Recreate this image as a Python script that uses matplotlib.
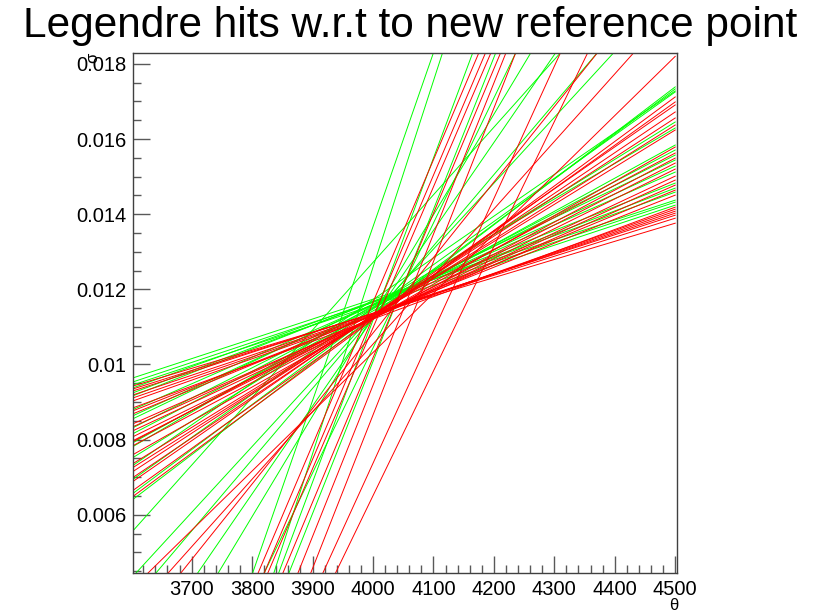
import numpy as np
import matplotlib
matplotlib.use("Agg")
import matplotlib.pyplot as plt
from matplotlib.ticker import MultipleLocator

# each hit line is stored by its value at x = 3600 and x = 4500
x_lo, x_hi = 3600, 4500

green_left = [0.009627, 0.00952, 0.00944, 0.00936, 0.009227, 0.009147, 0.00878,
              0.008613, 0.008533, 0.008293, 0.008133, 0.007893, 0.007787,
              0.007493, 0.00728, 0.006907, 0.006533, 0.006373,
              -0.00485, -0.00726, -0.00607, -0.00611, 0.000595, 0.001878,
              0.003673, 0.00431, 0.00552, -0.00287]
green_right = [0.014373, 0.01432, 0.01424, 0.014587, 0.014693, 0.014827, 0.01512,
               0.01528, 0.015441, 0.015573, 0.015707, 0.01584, 0.016293,
               0.016453, 0.01728, 0.017253, 0.017333, 0.017387,
               0.03681, 0.03739, 0.03274, 0.03031, 0.02469, 0.02292,
               0.02074, 0.02008, 0.02171, 0.02707]

red_left = [0.009413, 0.009333, 0.00928, 0.009173, 0.009093, 0.009013, 0.008827,
            0.008747, 0.008667, 0.0084, 0.00832, 0.008213, 0.008053, 0.007947,
            0.007813, 0.00792, 0.007573, 0.007333, 0.007227, 0.00712, 0.00696,
            0.006853, 0.006613, 0.006453,
            -0.00351, -0.00403, -0.00520, -0.00665, -0.00768, -0.00672,
            -0.00677, 0.00335, 0.00280, 0.00401, -0.00387]
red_right = [0.01376, 0.013893, 0.013973, 0.014027, 0.01408, 0.014133, 0.014187,
             0.014507, 0.01464, 0.014773, 0.014907, 0.015013, 0.0152, 0.01536,
             0.015493, 0.015627, 0.015787, 0.01624, 0.016373, 0.01656, 0.01672,
             0.016907, 0.016987, 0.01712,
             0.03061, 0.02973, 0.02940, 0.02956, 0.02907, 0.02498,
             0.02310, 0.01953, 0.02088, 0.0182, 0.03016]

x_ticks = [3700, 3800, 3900, 4000, 4100, 4200, 4300, 4400, 4500]
y_ticks = [0.006, 0.008, 0.01, 0.012, 0.014, 0.016, 0.018]
y_tick_labels = ["0.006", "0.008", "0.01", "0.012", "0.014", "0.016", "0.018"]

plt.rcParams["font.family"] = ["Liberation Sans", "DejaVu Sans"]

fig = plt.figure(figsize=(8.15, 6.14), dpi=100)
ax = fig.add_axes([0.1632, 0.0668, 0.6675, 0.8469])

for yl, yr in zip(green_left, green_right):
    ax.plot([x_lo, x_hi], [yl, yr], color="#00ff00", lw=0.7)
for yl, yr in zip(red_left, red_right):
    ax.plot([x_lo, x_hi], [yl, yr], color="#ff0000", lw=0.7)

ax.set_xlim(3603, 4503)
ax.set_ylim(0.00445, 0.01829)

ax.set_xticks(x_ticks)
ax.set_xticklabels([str(v) for v in x_ticks])
ax.set_yticks(y_ticks)
ax.set_yticklabels(y_tick_labels)
ax.xaxis.set_minor_locator(MultipleLocator(20))
ax.yaxis.set_minor_locator(MultipleLocator(0.0005))

ax.tick_params(which="major", direction="in", length=12, width=1,
               color="0.35", labelsize=14.5, pad=5)
ax.tick_params(which="minor", direction="in", length=6, width=1, color="0.35")
ax.tick_params(top=False, right=False, which="both")
for sp in ax.spines.values():
    sp.set_color("0.25")
    sp.set_linewidth(1)

fig.text(0.503, 0.958, "Legendre hits w.r.t to new reference point",
         ha="center", va="center", fontsize=30.5)
fig.text(674 / 815, 1 - 605 / 614, "θ", ha="center", va="center", fontsize=12)
fig.text(93 / 815, 1 - 58 / 614, "σ", ha="center", va="center", fontsize=12,
         rotation=90)

fig.savefig("out.png", dpi=100)
